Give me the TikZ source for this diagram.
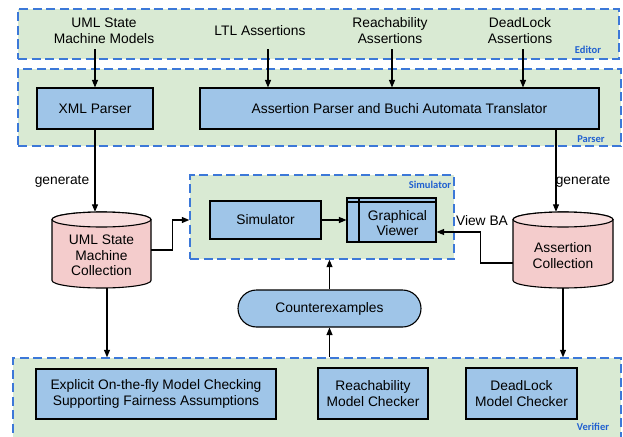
\documentclass[tikz,border=0pt]{standalone}
\usepackage{fontspec}
\setmainfont{Liberation Sans}
\newfontfamily\labfont{Carlito}
\usetikzlibrary{arrows.meta,shapes.misc}
\definecolor{grn}{HTML}{D9EAD3}
\definecolor{bluebox}{HTML}{9FC5E8}
\definecolor{pinkc}{HTML}{F4CCCC}
\definecolor{pinktop}{HTML}{F8DEDE}
\definecolor{dashblue}{HTML}{3C78D8}
\definecolor{labblue}{HTML}{2060D0}
\newcommand\dbcyl[4]{% left, right, top, bottom
  \pgfmathsetmacro\cylcx{(#1+#2)/2}\pgfmathsetmacro\cylrx{(#2-#1)/2}
  \filldraw[cylst] (#1,#3+7.5) -- (#1,#4-7.5) arc[start angle=180,end angle=0,x radius=\cylrx,y radius=7.5] -- (#2,#3+7.5) arc[start angle=0,end angle=-180,x radius=\cylrx,y radius=7.5] -- cycle;
  \filldraw[cylst, fill=pinktop] (\cylcx,#3+7.5) ellipse[x radius=\cylrx, y radius=7.5];
}
\begin{document}
\begin{tikzpicture}[x=1pt,y=-1pt,
  font=\fontsize{13.8}{15.7}\selectfont,
  region/.style={draw=dashblue, fill=grn, line width=1.4pt, dash pattern=on 9pt off 4.5pt, inner sep=0pt},
  proc/.style={draw=black, fill=bluebox, line width=1.1pt, align=center, inner sep=0pt},
  cylst/.style={draw=black, fill=pinkc, line width=1.1pt},
  tag/.style={font=\labfont\bfseries\fontsize{10.5}{12}\selectfont, text=labblue, inner sep=0pt},
  plain/.style={align=center, inner sep=0pt},
  edtext/.style={align=center, inner sep=0pt, minimum height=37pt},
  anchorbox/.style={inner sep=0pt, draw=none},
  gvst/.style={proc, path picture={
     \draw[line width=1.1pt] ([xshift=12pt]path picture bounding box.north west) -- ([xshift=12pt]path picture bounding box.south west);
     \draw[line width=1.1pt] ([yshift=-4pt]path picture bounding box.north west) -- ([yshift=-4pt]path picture bounding box.north east);}},
  arr/.style={line width=1.1pt, -{Triangle[length=7.5pt,width=6pt]}},
]
\useasboundingbox (0,0) rectangle (623,436);

% regions
\node[region, minimum width=601pt, minimum height=50pt] (editor) at (318.5,34) {};
\node[region, minimum width=603pt, minimum height=77pt] (parser) at (319.5,107.5) {};
\node[region, minimum width=264pt, minimum height=84pt] (simbox) at (322,217) {};
\node[region, minimum width=608pt, minimum height=82pt] (verifier) at (317,399) {};

\node[tag] (tagE) at (588,50) {Editor};
\node[tag] (tagP) at (591,139) {Parser};
\node[tag] (tagS) at (430,185) {Simulator};
\node[tag] (tagV) at (593,427) {Verifier};

% editor texts
\node[edtext] (umlm) at (104,30.5) {UML State\\Machine Models};
\node[edtext] (ltl) at (260,30.5) {LTL Assertions};
\node[edtext] (rea) at (390,30.5) {Reachability\\Assertions};
\node[edtext] (dea) at (520,30.5) {DeadLock\\Assertions};

% parser
\node[proc, minimum width=116pt, minimum height=41pt] (xmlp) at (95,108.5) {XML Parser};
\node[proc, minimum width=399pt, minimum height=41pt] (ap) at (399.5,108.5) {Assertion Parser and Buchi Automata Translator};

% simulator
\node[proc, minimum width=111pt, minimum height=38pt] (sim) at (265.5,220) {Simulator};
\node[gvst, minimum width=89pt, minimum height=44pt,
      label={[plain, xshift=6pt, yshift=-3pt]center:{Graphical\\Viewer}}] (gv) at (391.5,220) {};

% counterexamples
\node[proc, rounded rectangle, minimum width=183pt, minimum height=37pt] (cex) at (329.5,308.5) {Counterexamples};

% verifier
\node[proc, minimum width=240pt, minimum height=50pt] (exp) at (156,394) {Explicit On-the-fly Model Checking\\Supporting Fairness Assumptions};
\node[proc, minimum width=110pt, minimum height=51pt] (rch) at (373,393.5) {Reachability\\Model Checker};
\node[proc, minimum width=111pt, minimum height=51pt] (ddl) at (521.5,393.5) {DeadLock\\Model Checker};

% cylinders
\dbcyl{52}{151}{212}{288}
\node[anchorbox, minimum width=99pt, minimum height=76pt] (umlc) at (101.5,250) {};
\node[plain] (umlct) at (101.5,255.5) {UML State\\Machine\\Collection};
\dbcyl{513}{613}{212}{288}
\node[anchorbox, minimum width=100pt, minimum height=76pt] (ac) at (563,250) {};
\node[plain] (act) at (563,255.5) {Assertion\\Collection};

% labels
\node[plain] (gen1) at (62,181) {generate};
\node[plain] (gen2) at (583,181) {generate};
\node[plain] (vba) at (482,221) {View BA};

% connectors
\draw[arr] (xmlp.north |- umlm.south) -- (xmlp.north);
\draw[arr] ([xshift=8pt]ltl.south) -- ([xshift=8pt]ltl.south |- ap.north);
\draw[arr] ([xshift=2pt]rea.south) -- ([xshift=2pt]rea.south |- ap.north);
\draw[arr] ([xshift=3pt]dea.south) -- ([xshift=3pt]dea.south |- ap.north);
\draw[arr] (xmlp.south) -- (xmlp.south |- umlc.north);
\draw[arr] ([xshift=-7pt]ac.north |- ap.south) -- ([xshift=-7pt]ac.north);
\draw[arr] (umlc.east) -- ++(21,0) |- ([yshift=-3pt]simbox.west);
\draw[arr] (sim.east) -- (gv.west);
\draw[arr] ([yshift=-13pt]ac.west) -- ++(-32,0) |- ([yshift=-12pt]gv.east);
\draw[arr] (cex.north) -- (cex.north |- simbox.south);
\draw[arr] (cex.south |- verifier.north) -- (cex.south);
\draw[arr] ([xshift=5.5pt]umlc.south) -- ([xshift=5.5pt]umlc.south |- verifier.north);
\draw[arr] (ac.south) -- (ac.south |- verifier.north);
\end{tikzpicture}
\end{document}
